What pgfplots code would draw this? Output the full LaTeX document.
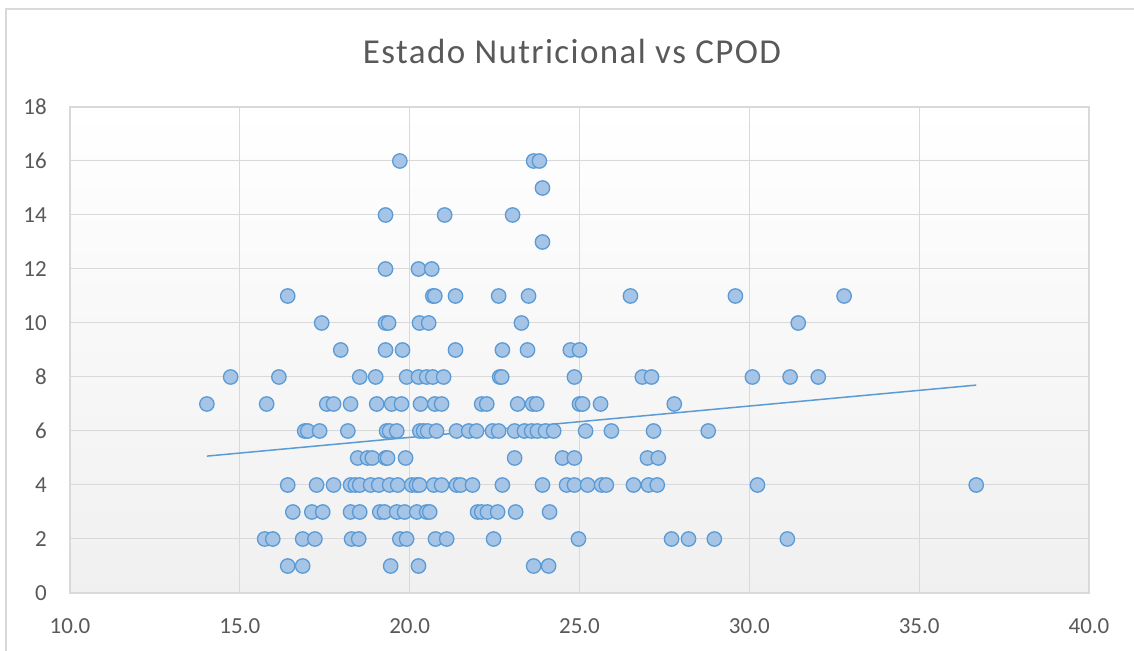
\documentclass[border=0pt]{standalone}
\usepackage{fontspec}
\setmainfont{Carlito}
\newfontfamily\titlefont[LetterSpace=4]{Carlito}
\usepackage{pgfplots}
\pgfplotsset{compat=1.18}
\definecolor{txt}{HTML}{595959}
\definecolor{grd}{HTML}{D9D9D9}
\definecolor{axl}{HTML}{C8C8C8}
\definecolor{mk}{HTML}{5B9BD5}
\definecolor{mkf}{HTML}{A5C4E6}
\definecolor{bgb}{HTML}{F0F0F0}
\pgfplotstableread{
x y
19.71 16
23.65 16
23.82 16
23.91 15
19.29 14
21.03 14
23.03 14
23.91 13
19.29 12
20.26 12
20.65 12
16.41 11
20.68 11
20.74 11
21.35 11
22.62 11
23.50 11
26.50 11
29.59 11
32.79 11
17.41 10
19.29 10
19.38 10
20.29 10
20.56 10
23.29 10
31.44 10
17.97 9
19.29 9
19.79 9
21.35 9
22.73 9
23.47 9
24.73 9
25.00 9
14.73 8
16.15 8
18.53 8
19.00 8
19.91 8
20.26 8
20.50 8
20.68 8
21.00 8
22.65 8
22.71 8
24.85 8
26.85 8
27.12 8
30.09 8
31.20 8
32.03 8
14.03 7
15.79 7
17.56 7
17.76 7
18.26 7
19.03 7
19.47 7
19.76 7
20.32 7
20.74 7
20.94 7
22.12 7
22.27 7
23.18 7
23.62 7
23.74 7
25.00 7
25.09 7
25.62 7
27.79 7
16.91 6
17.00 6
17.35 6
18.18 6
19.32 6
19.41 6
19.62 6
20.30 6
20.41 6
20.53 6
20.79 6
21.38 6
21.74 6
21.97 6
22.44 6
22.62 6
23.09 6
23.38 6
23.59 6
23.76 6
24.00 6
24.24 6
25.18 6
25.94 6
27.18 6
28.79 6
18.47 5
18.76 5
18.90 5
19.29 5
19.35 5
19.88 5
23.09 5
24.50 5
24.85 5
27.00 5
27.32 5
16.41 4
17.26 4
17.76 4
18.26 4
18.40 4
18.53 4
18.85 4
19.09 4
19.41 4
19.65 4
20.06 4
20.20 4
20.29 4
20.71 4
20.94 4
21.38 4
21.50 4
21.85 4
22.73 4
23.91 4
24.62 4
24.85 4
25.24 4
25.65 4
25.79 4
26.59 4
27.03 4
27.29 4
30.24 4
36.68 4
16.56 3
17.12 3
17.44 3
18.26 3
18.53 3
19.12 3
19.26 3
19.62 3
19.85 3
20.21 3
20.50 3
20.59 3
22.00 3
22.12 3
22.29 3
22.59 3
23.12 3
24.12 3
15.73 2
15.97 2
16.85 2
17.21 2
18.29 2
18.50 2
19.71 2
19.91 2
20.76 2
21.09 2
22.47 2
24.97 2
27.71 2
28.21 2
28.97 2
31.12 2
16.41 1
16.85 1
19.44 1
20.26 1
23.65 1
24.09 1
}\datatable
\begin{document}
\begin{tikzpicture}[x=1pt,y=1pt]
\useasboundingbox (-70,-57) rectangle (1064,593);
\draw[grd, line width=1.3pt] (-64,-60) -- (-64,584) -- (1070,584);
\begin{axis}[
  at={(0,0)}, anchor=south west,
  scale only axis, width=1019pt, height=486pt,
  xmin=10, xmax=40, ymin=0, ymax=18,
  xtick={10,15,...,40}, ytick={0,2,...,18},
  grid=major, grid style={grd, line width=1pt},
  axis line style={grd, line width=1.2pt},
  x axis line style={axl},
  tick style={draw=none}, major tick length=0pt,
  axis background/.style={top color=white, bottom color=bgb},
  ticklabel style={txt, font=\fontsize{23}{23}\selectfont, inner sep=0pt},
  x tick label style={anchor=north, yshift=-25pt, /pgf/number format/.cd, fixed, fixed zerofill, precision=1, assume math mode=true},
  y tick label style={anchor=east, xshift=-23pt, /pgf/number format/assume math mode=true},
]
\addplot[only marks, mark=*, mark size=7.2pt, mark options={draw=mk, fill=mkf, line width=1.3pt}] table[x=x,y=y] {\datatable};
\addplot[mk, line width=1.5pt] coordinates {(14.03,5.07) (36.68,7.70)};
\end{axis}
\node[txt, font=\titlefont\fontsize{35}{35}\selectfont, anchor=base] at (502,529) {Estado Nutricional vs CPOD};
\end{tikzpicture}
\end{document}
